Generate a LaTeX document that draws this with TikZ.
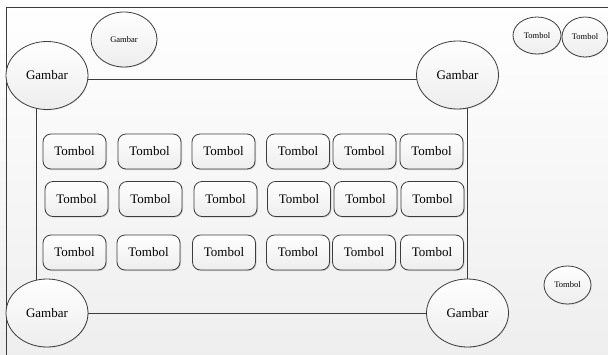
\documentclass[tikz,border=0pt]{standalone}
\usepackage{fontspec}
\setmainfont{Liberation Serif}
\usetikzlibrary{shapes.geometric,shadows}
\definecolor{edge}{HTML}{3C3C3C}
\tikzset{
  outline/.style={draw=edge, line width=0.8pt},
  softshade/.style={top color=white, bottom color=gray!14},
  bigoval/.style={outline, softshade, ellipse, inner sep=0pt,
    minimum width=82pt, minimum height=68pt,
    font=\fontsize{13}{15}\selectfont,
    drop shadow={opacity=0.18, shadow xshift=0.6pt, shadow yshift=-0.9pt}},
  smalloval/.style={outline, softshade, ellipse, inner sep=0pt,
    font=\fontsize{8.5}{10}\selectfont,
    drop shadow={opacity=0.18, shadow xshift=0.6pt, shadow yshift=-0.9pt}},
  button/.style={outline, softshade, rounded corners=8pt,
    minimum width=63pt, minimum height=35pt, inner sep=0pt,
    font=\fontsize{13}{15}\selectfont,
    drop shadow={opacity=0.3, shadow xshift=1pt, shadow yshift=-1pt}},
}
\begin{document}
\begin{tikzpicture}[x=1pt, y=-1pt]
  % page background with a soft vertical fade
  \shade[top color=white, bottom color=gray!13] (0,0) rectangle (608,354);
  \useasboundingbox (0,0) rectangle (608,354);

  % outer screen frame (runs off the right and bottom)
  \draw[outline] (610,7) -- (6,7) -- (6,356);

  % inner content frame, its corners covered by the images
  \coordinate (frameNW) at (36,79);
  \coordinate (frameSE) at (467,313);
  \draw[outline] (frameNW) rectangle (frameSE);

  % corner images
  \node[bigoval] (tl) at (47,75.5)  {Gambar};
  \node[bigoval] (tr) at (457.5,75) {Gambar};
  \node[bigoval] (bl) at (47,313)   {Gambar};
  \node[bigoval] (br) at (467.5,313) {Gambar};

  % small image above the frame
  \node[smalloval, minimum width=66pt, minimum height=55pt] (logo) at (124,39.5) {Gambar};

  % loose buttons on the right
  \node[smalloval, minimum width=48pt, minimum height=37pt] (tb1) at (537,35.5) {Tombol};
  \node[smalloval, minimum width=46pt, minimum height=40pt] (tb2) at (585,37)   {Tombol};
  \node[smalloval, minimum width=47pt, minimum height=38pt] (tb3) at (567.5,285) {Tombol};

  % button grid
  \foreach \x [count=\i] in {74.5,149.5,223.5,298,364.5,431.5}
    \node[button] (r1c\i) at (\x,151.5) {Tombol};
  \foreach \x [count=\i] in {76.5,150.5,225.5,299,365.5,432.5}
    \node[button] (r2c\i) at (\x,199) {Tombol};
  \foreach \x [count=\i] in {74.5,148.5,224,298,364,432}
    \node[button] (r3c\i) at (\x,252.5) {Tombol};
\end{tikzpicture}
\end{document}
